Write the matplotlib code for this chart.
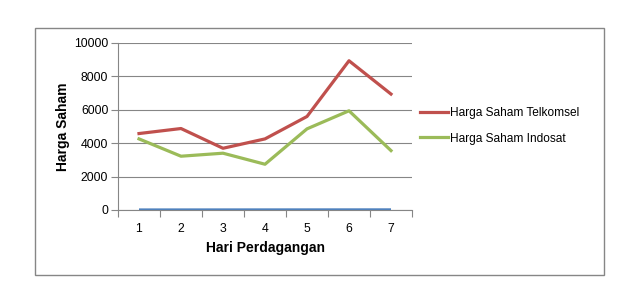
import matplotlib

matplotlib.use("Agg")
import matplotlib.pyplot as plt
from matplotlib.patches import Rectangle

# data
hari = [1, 2, 3, 4, 5, 6, 7]
telkomsel = [4570, 4870, 3690, 4250, 5590, 8920, 6930]
indosat = [4250, 3215, 3395, 2735, 4850, 5930, 3550]
seri_hari = [1, 2, 3, 4, 5, 6, 7]
y_ticks = [0, 2000, 4000, 6000, 8000, 10000]

W, H = 633, 293
plt.rcParams["font.family"] = ["Liberation Sans", "DejaVu Sans"]

fig = plt.figure(figsize=(W / 100, H / 100), dpi=100)
fig.patch.set_facecolor("white")

# outer chart border, pixel coords
x0, y0, x1, y1 = 34.7, 28.3, 603.6, 275.3
fig.patches.append(
    Rectangle((x0 / W, 1 - y1 / H), (x1 - x0) / W, (y1 - y0) / H,
              transform=fig.transFigure, fill=False, edgecolor="#868686", linewidth=1.0)
)

ax_l, ax_t, ax_r, ax_b = 118, 42.7, 412, 210
ax = fig.add_axes([ax_l / W, 1 - ax_b / H, (ax_r - ax_l) / W, (ax_b - ax_t) / H])

grey = "#868686"
ax.plot(hari, seri_hari, color="#4F81BD", linewidth=2.3, solid_capstyle="butt", zorder=3)
ax.plot(hari, telkomsel, color="#C0504D", linewidth=2.3, label="Harga Saham Telkomsel", zorder=3)
ax.plot(hari, indosat, color="#9BBB59", linewidth=2.3, label="Harga Saham Indosat", zorder=3)

ax.set_xlim(0.5, 7.5)
ax.set_ylim(0, 10000)
ax.set_yticks(y_ticks)
ax.set_xticks(hari)
ax.set_xticks([h + 0.5 for h in [0] + hari], minor=True)
ax.tick_params(axis="x", which="major", length=0, pad=9, labelsize=8.8)
ax.tick_params(axis="x", which="minor", length=5, color=grey, width=0.8)
ax.tick_params(axis="y", length=5, color=grey, width=0.8, pad=2, labelsize=8.8)
ax.grid(axis="y", color=grey, linewidth=0.8)
ax.set_axisbelow(True)
for side in ["top", "right"]:
    ax.spines[side].set_visible(False)
for side in ["left", "bottom"]:
    ax.spines[side].set_color(grey)
    ax.spines[side].set_linewidth(0.8)

ax.set_xlabel("Hari Perdagangan", fontsize=10, fontweight="bold", labelpad=5)
ax.set_ylabel("Harga Saham", fontsize=10, fontweight="bold", labelpad=3)

ax.legend(loc="upper left", bbox_to_anchor=(415 / W, 1 - 102 / H), bbox_transform=fig.transFigure,
          frameon=False, fontsize=8.6, handlelength=2.4, handletextpad=0.15,
          labelspacing=1.15, borderaxespad=0)

fig.savefig("out.png", dpi=100)
